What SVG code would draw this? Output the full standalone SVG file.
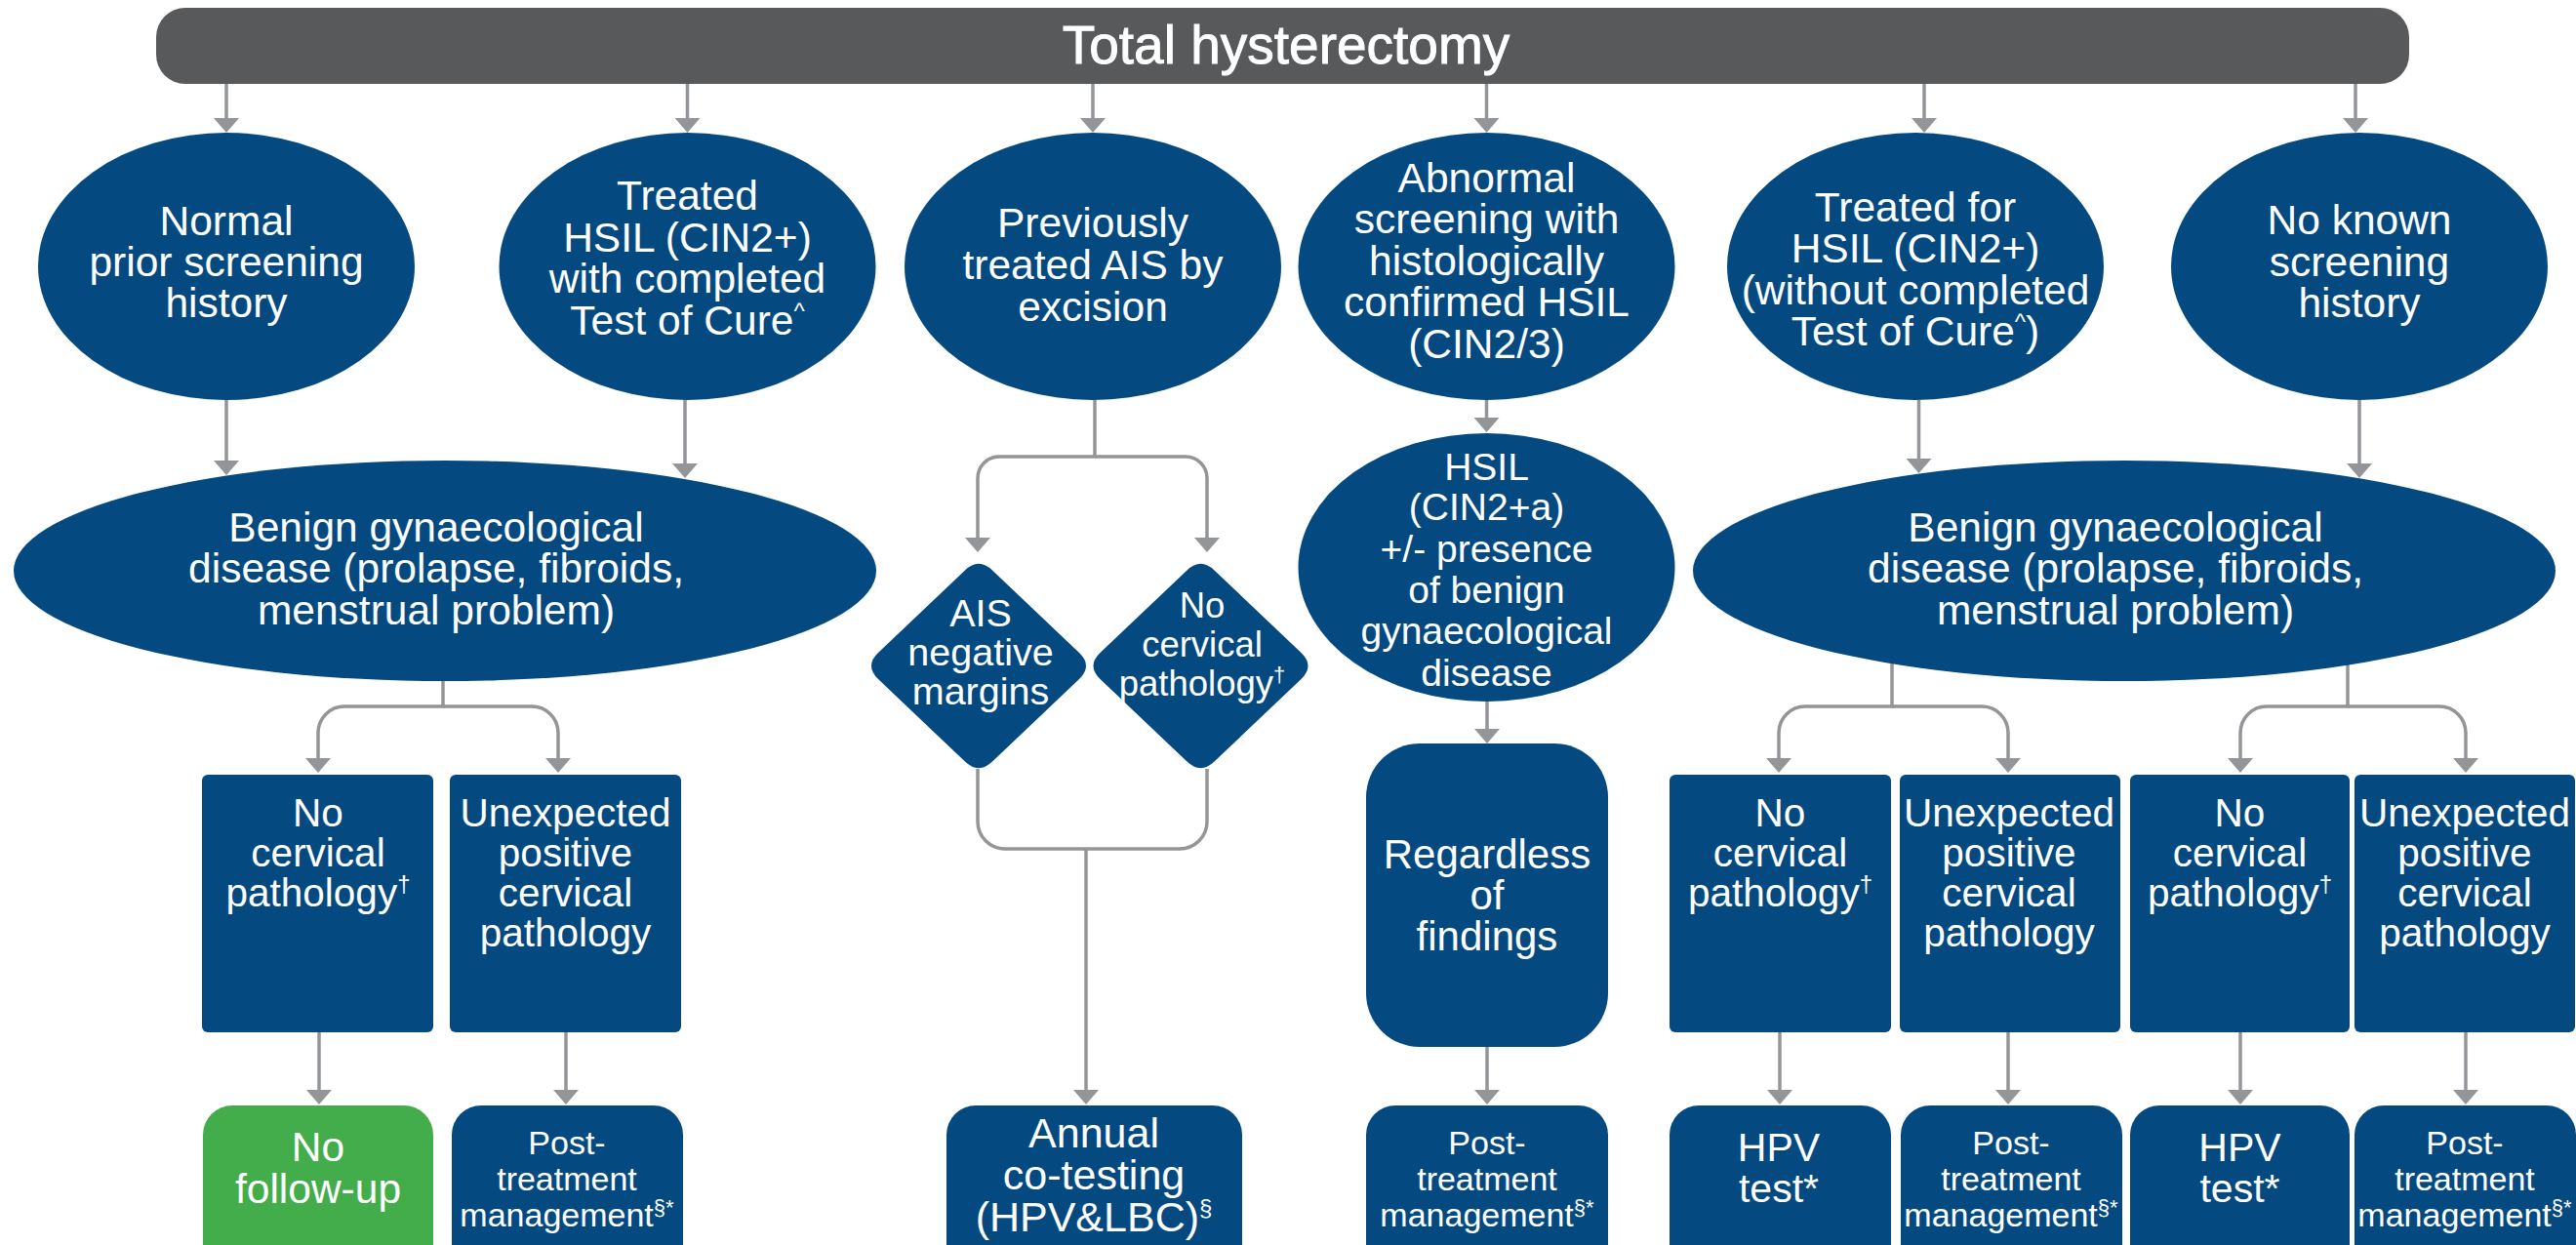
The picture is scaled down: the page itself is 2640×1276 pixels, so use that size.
<svg xmlns="http://www.w3.org/2000/svg" width="2640" height="1276" viewBox="0 0 2640 1276">
<style>
.n{fill:#044a80}
.g{fill:#43ad4b}
.t{font-family:"Liberation Sans",Arial,Helvetica,sans-serif;fill:#fff;text-anchor:middle}
.f43{font-size:42.5px}
.f39{font-size:39px}
.f40{font-size:40.5px}
.f42{font-size:42px}
.f41{font-size:41px}
.f44{font-size:43px}
.f34{font-size:34px}
.sup{font-size:24px}
.sup2{font-size:22px}
.c{fill:none;stroke:#939598;stroke-width:3.5}
</style>
<defs>
<marker id="ah" markerUnits="userSpaceOnUse" markerWidth="16" markerHeight="26" viewBox="0 0 16 26" refX="1" refY="13" orient="auto">
<path d="M0,0 L15,13 L0,26 Z" fill="#939598"/>
</marker>
</defs>
<rect width="2640" height="1276" fill="#fff"/>

<g id="connectors">
<path class="c" marker-end="url(#ah)" d="M232,86 V122"/>
<path class="c" marker-end="url(#ah)" d="M704.5,86 V122"/>
<path class="c" marker-end="url(#ah)" d="M1120,86 V122"/>
<path class="c" marker-end="url(#ah)" d="M1523.5,86 V122"/>
<path class="c" marker-end="url(#ah)" d="M1972,86 V122"/>
<path class="c" marker-end="url(#ah)" d="M2414,86 V122"/>
<path class="c" marker-end="url(#ah)" d="M232,410 V473"/>
<path class="c" marker-end="url(#ah)" d="M702,410 V476"/>
<path class="c" marker-end="url(#ah)" d="M1966.5,410 V471"/>
<path class="c" marker-end="url(#ah)" d="M2418,410 V476"/>
<path class="c" marker-end="url(#ah)" d="M1122,410 V468 H1024 A22,22 0 0 0 1002,490 V552"/>
<path class="c" marker-end="url(#ah)" d="M1122,468 H1215 A22,22 0 0 1 1237,490 V552"/>
<path class="c" d="M1002,788 V842 A28,28 0 0 0 1030,870 H1209 A28,28 0 0 0 1237,842 V788"/>
<path class="c" marker-end="url(#ah)" d="M1113,870 V1118"/>
<path class="c" marker-end="url(#ah)" d="M1523.5,410 V429"/>
<path class="c" marker-end="url(#ah)" d="M1524,719 V748"/>
<path class="c" marker-end="url(#ah)" d="M1524,1073 V1118"/>
<path class="c" marker-end="url(#ah)" d="M454,697 V724 H353 A27,27 0 0 0 326,751 V778"/>
<path class="c" marker-end="url(#ah)" d="M454,724 H545 A27,27 0 0 1 572,751 V778"/>
<path class="c" marker-end="url(#ah)" d="M1939,679 V724 H1850 A27,27 0 0 0 1823,751 V778"/>
<path class="c" marker-end="url(#ah)" d="M1939,724 H2031 A27,27 0 0 1 2058,751 V778"/>
<path class="c" marker-end="url(#ah)" d="M2406,681 V724 H2323 A27,27 0 0 0 2296,751 V778"/>
<path class="c" marker-end="url(#ah)" d="M2406,724 H2500 A27,27 0 0 1 2527,751 V778"/>
<path class="c" marker-end="url(#ah)" d="M327,1058 V1118"/>
<path class="c" marker-end="url(#ah)" d="M580,1058 V1118"/>
<path class="c" marker-end="url(#ah)" d="M1824,1058 V1118"/>
<path class="c" marker-end="url(#ah)" d="M2058,1058 V1118"/>
<path class="c" marker-end="url(#ah)" d="M2296,1058 V1118"/>
<path class="c" marker-end="url(#ah)" d="M2527,1058 V1118"/>
</g>

<g id="total-hysterectomy">
<rect x="160" y="8" width="2309" height="78" rx="30" fill="#58595b"/>
<text class="t" x="1318" y="65" font-size="55" stroke="#fff" stroke-width="0.9">Total hysterectomy</text>
</g>

<g id="normal-prior">
<ellipse class="n" cx="232" cy="273" rx="193" ry="137"/>
<text class="t f43"><tspan x="232" y="241">Normal</tspan><tspan x="232" y="283">prior screening</tspan><tspan x="232" y="325">history</tspan></text>
</g>

<g id="treated-hsil-toc">
<ellipse class="n" cx="704.5" cy="273" rx="193" ry="137"/>
<text class="t f43"><tspan x="704.5" y="215">Treated</tspan><tspan x="704.5" y="258">HSIL (CIN2+)</tspan><tspan x="704.5" y="300">with completed</tspan><tspan x="704.5" y="343">Test of Cure<tspan class="sup" dy="-16">^</tspan></tspan></text>
</g>

<g id="previously-ais">
<ellipse class="n" cx="1120" cy="273" rx="193" ry="137"/>
<text class="t f43"><tspan x="1120" y="243">Previously</tspan><tspan x="1120" y="286">treated AIS by</tspan><tspan x="1120" y="329">excision</tspan></text>
</g>

<g id="abnormal-screening">
<ellipse class="n" cx="1523.5" cy="273" rx="193" ry="137"/>
<text class="t f43"><tspan x="1523.5" y="197">Abnormal</tspan><tspan x="1523.5" y="239">screening with</tspan><tspan x="1523.5" y="282">histologically</tspan><tspan x="1523.5" y="324">confirmed HSIL</tspan><tspan x="1523.5" y="367">(CIN2/3)</tspan></text>
</g>

<g id="treated-hsil-no-toc">
<ellipse class="n" cx="1963" cy="273" rx="193" ry="137"/>
<text class="t f43"><tspan x="1963" y="227">Treated for</tspan><tspan x="1963" y="269">HSIL (CIN2+)</tspan><tspan x="1963" y="312">(without completed</tspan><tspan x="1963" y="354">Test of Cure<tspan class="sup" dy="-16">^</tspan><tspan dy="16">)</tspan></tspan></text>
</g>

<g id="no-known-history">
<ellipse class="n" cx="2418" cy="273" rx="193" ry="137"/>
<text class="t f43"><tspan x="2418" y="240">No known</tspan><tspan x="2418" y="283">screening</tspan><tspan x="2418" y="325">history</tspan></text>
</g>

<g id="benign-left">
<ellipse class="n" cx="456" cy="585" rx="442" ry="113"/>
<text class="t f43"><tspan x="447" y="555">Benign gynaecological</tspan><tspan x="447" y="597">disease (prolapse, fibroids,</tspan><tspan x="447" y="640">menstrual problem)</tspan></text>
</g>

<g id="benign-right">
<ellipse class="n" cx="2177" cy="585" rx="442" ry="113"/>
<text class="t f43"><tspan x="2168" y="555">Benign gynaecological</tspan><tspan x="2168" y="597">disease (prolapse, fibroids,</tspan><tspan x="2168" y="640">menstrual problem)</tspan></text>
</g>

<g id="hsil-cin2a">
<ellipse class="n" cx="1523.5" cy="581.5" rx="193" ry="137.5"/>
<text class="t f39"><tspan x="1523.5" y="492">HSIL</tspan><tspan x="1523.5" y="533">(CIN2+a)</tspan><tspan x="1523.5" y="576">+/- presence</tspan><tspan x="1523.5" y="618">of benign</tspan><tspan x="1523.5" y="660">gynaecological</tspan><tspan x="1523.5" y="703">disease</tspan></text>
</g>

<g id="ais-negative-margins">
<path class="n" d="M1017,584.4 L1106,669.1 Q1120,682.5 1106,695.9 L1017,780.6 Q1003,794 989,780.6 L900,695.9 Q886,682.5 900,669.1 L989,584.4 Q1003,571 1017,584.4 Z"/>
<text class="t" font-size="39.5"><tspan x="1005" y="642">AIS</tspan><tspan x="1005" y="682">negative</tspan><tspan x="1005" y="722">margins</tspan></text>
</g>

<g id="no-cervical-diamond">
<path class="n" d="M1244.5,584.4 L1333.5,669.1 Q1347.5,682.5 1333.5,695.9 L1244.5,780.6 Q1230.5,794 1216.5,780.6 L1127.5,695.9 Q1113.5,682.5 1127.5,669.1 L1216.5,584.4 Q1230.5,571 1244.5,584.4 Z"/>
<text class="t" font-size="36.5"><tspan x="1232" y="633">No</tspan><tspan x="1232" y="673">cervical</tspan><tspan x="1232" y="713">pathology<tspan class="sup2" dy="-14">†</tspan></tspan></text>
</g>

<g id="left-no-cervical">
<rect class="n" x="207" y="794" width="237" height="264" rx="6"/>
<text class="t f40"><tspan x="326" y="847">No</tspan><tspan x="326" y="888">cervical</tspan><tspan x="326" y="929">pathology<tspan class="sup" dy="-15">†</tspan></tspan></text>
</g>

<g id="left-unexpected">
<rect class="n" x="461" y="794" width="237" height="264" rx="6"/>
<text class="t f40"><tspan x="579.5" y="847">Unexpected</tspan><tspan x="579.5" y="888">positive</tspan><tspan x="579.5" y="929">cervical</tspan><tspan x="579.5" y="970">pathology</tspan></text>
</g>

<g id="right1-no-cervical">
<rect class="n" x="1711" y="794" width="227" height="264" rx="6"/>
<text class="t f40"><tspan x="1824.5" y="847">No</tspan><tspan x="1824.5" y="888">cervical</tspan><tspan x="1824.5" y="929">pathology<tspan class="sup" dy="-15">†</tspan></tspan></text>
</g>

<g id="right1-unexpected">
<rect class="n" x="1947" y="794" width="226" height="264" rx="6"/>
<text class="t f40"><tspan x="2059" y="847">Unexpected</tspan><tspan x="2059" y="888">positive</tspan><tspan x="2059" y="929">cervical</tspan><tspan x="2059" y="970">pathology</tspan></text>
</g>

<g id="right2-no-cervical">
<rect class="n" x="2183" y="794" width="225" height="264" rx="6"/>
<text class="t f40"><tspan x="2295.5" y="847">No</tspan><tspan x="2295.5" y="888">cervical</tspan><tspan x="2295.5" y="929">pathology<tspan class="sup" dy="-15">†</tspan></tspan></text>
</g>

<g id="right2-unexpected">
<rect class="n" x="2413" y="794" width="226" height="264" rx="6"/>
<text class="t f40"><tspan x="2526" y="847">Unexpected</tspan><tspan x="2526" y="888">positive</tspan><tspan x="2526" y="929">cervical</tspan><tspan x="2526" y="970">pathology</tspan></text>
</g>

<g id="regardless">
<rect class="n" x="1400" y="762" width="248" height="311" rx="55"/>
<text class="t f42"><tspan x="1524" y="890">Regardless</tspan><tspan x="1524" y="932">of</tspan><tspan x="1524" y="974">findings</tspan></text>
</g>

<g id="no-follow-up">
<rect class="g" x="208" y="1133" width="236" height="180" rx="30"/>
<text class="t f43"><tspan x="326" y="1190">No</tspan><tspan x="326" y="1233">follow-up</tspan></text>
</g>

<g id="post-left">
<rect class="n" x="463" y="1133" width="237" height="180" rx="30"/>
<text class="t f34"><tspan x="581" y="1183">Post-</tspan><tspan x="581" y="1220">treatment</tspan><tspan x="581" y="1257">management<tspan class="sup2" dy="-12">§*</tspan></tspan></text>
</g>

<g id="annual-cotesting">
<rect class="n" x="970" y="1133" width="303" height="180" rx="30"/>
<text class="t f44"><tspan x="1121" y="1176">Annual</tspan><tspan x="1121" y="1219">co-testing</tspan><tspan x="1121" y="1262">(HPV&amp;LBC)<tspan class="sup" dy="-16">§</tspan></tspan></text>
</g>

<g id="post-middle">
<rect class="n" x="1400" y="1133" width="248" height="180" rx="30"/>
<text class="t f34"><tspan x="1524" y="1183">Post-</tspan><tspan x="1524" y="1220">treatment</tspan><tspan x="1524" y="1257">management<tspan class="sup2" dy="-12">§*</tspan></tspan></text>
</g>

<g id="hpv-1">
<rect class="n" x="1711" y="1133" width="227" height="180" rx="30"/>
<text class="t f41"><tspan x="1823" y="1190">HPV</tspan><tspan x="1823" y="1232">test*</tspan></text>
</g>

<g id="post-right1">
<rect class="n" x="1948" y="1133" width="227" height="180" rx="30"/>
<text class="t f34"><tspan x="2061" y="1183">Post-</tspan><tspan x="2061" y="1220">treatment</tspan><tspan x="2061" y="1257">management<tspan class="sup2" dy="-12">§*</tspan></tspan></text>
</g>

<g id="hpv-2">
<rect class="n" x="2183" y="1133" width="225" height="180" rx="30"/>
<text class="t f41"><tspan x="2295.5" y="1190">HPV</tspan><tspan x="2295.5" y="1232">test*</tspan></text>
</g>

<g id="post-right2">
<rect class="n" x="2413" y="1133" width="227" height="180" rx="30"/>
<text class="t f34"><tspan x="2526" y="1183">Post-</tspan><tspan x="2526" y="1220">treatment</tspan><tspan x="2526" y="1257">management<tspan class="sup2" dy="-12">§*</tspan></tspan></text>
</g>
</svg>
